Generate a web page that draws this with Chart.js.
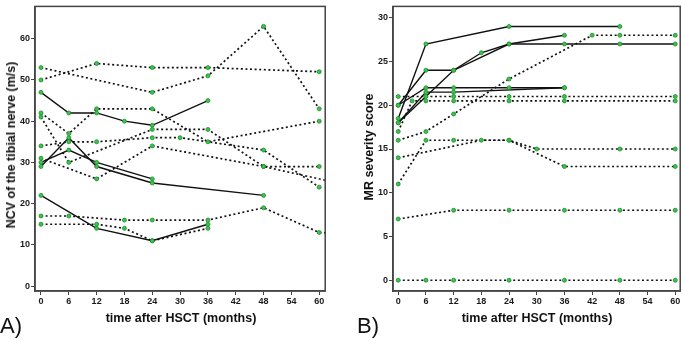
<!DOCTYPE html>
<html>
<head>
<meta charset="utf-8">
<script src="https://cdn.jsdelivr.net/npm/chart.js@4.4.1/dist/chart.umd.min.js"></script>
<style>
  body { margin: 0; background: #fff; }
  #wrap { position: relative; width: 685px; height: 339px; overflow: hidden; font-family: "Liberation Sans", Arial, sans-serif; }
  canvas { position: absolute; top: 0; }
  .lbl { position: absolute; white-space: nowrap; color: #111; }
  .ttl { font-weight: bold; font-size: 12.5px; transform: translate(-50%, -50%); }
  .vert { transform: translate(-50%, -50%) rotate(-90deg); }
  .panel { font-size: 22px; }
</style>
</head>
<body>
<div id="wrap">
  <canvas id="chartA" width="330" height="339" style="left:0"></canvas>
  <canvas id="chartB" width="325" height="339" style="left:360px"></canvas>
  <div class="lbl ttl vert" style="left:11px; top:145px">NCV of the tibial nerve (m/s)</div>
  <div class="lbl ttl" style="left:181px; top:318px">time after HSCT (months)</div>
  <div class="lbl panel" style="left:0; top:313px">A)</div>
  <div class="lbl ttl vert" style="left:369px; top:147px">MR severity score</div>
  <div class="lbl ttl" style="left:537px; top:318px">time after HSCT (months)</div>
  <div class="lbl panel" style="left:357px; top:313px">B)</div>
</div>
<script>
// tick labels
const monthTicks = [0, 6, 12, 18, 24, 30, 36, 42, 48, 54, 60];
const ncvTicks = [0, 10, 20, 30, 40, 50, 60];
const mrTicks = [0, 5, 10, 15, 20, 25, 30];

// panel A: NCV of the tibial nerve, solid lines
const ncvS1Months = [0, 6, 12, 18, 24, 36];
const ncvS1 = [47, 42, 42, 40, 39, 45];
const ncvS2Months = [0, 6, 12, 24, 48];
const ncvS2 = [29, 36, 29, 25, 22];
const ncvS3Months = [0, 6, 12, 24];
const ncvS3 = [30, 33, 30, 26];
const ncvS4Months = [0, 12, 24, 36];
const ncvS4 = [22, 14, 11, 15];
// panel A, dotted lines
const ncvD1Months = [0, 24, 36, 48, 60];
const ncvD1 = [53, 47, 51, 63, 43];
const ncvD2Months = [0, 12, 24, 36, 60];
const ncvD2 = [50, 54, 53, 53, 52];
const ncvD3Months = [0, 6, 12, 24, 36, 60];
const ncvD3 = [42, 37, 43, 43, 35, 40];
const ncvD4Months = [0, 6, 24, 36, 48, 72];
const ncvD4 = [41, 30, 38, 38, 29, 23];
const ncvD5Months = [0, 6, 12, 24, 30, 48, 60];
const ncvD5 = [34, 35, 35, 36, 36, 33, 24];
const ncvD6Months = [0, 12, 24, 48, 60];
const ncvD6 = [31, 26, 34, 29, 29];
const ncvD7Months = [0, 6, 18, 24, 36, 48, 60, 72];
const ncvD7 = [17, 17, 16, 16, 16, 19, 13, 12];
const ncvD8Months = [0, 12, 18, 24, 36];
const ncvD8 = [15, 15, 14, 11, 14];

// panel B: MR severity score, solid lines
const mrS1Months = [0, 6, 24, 48];
const mrS1 = [18.5, 27, 29, 29];
const mrS2Months = [0, 6, 12, 24, 36, 48, 60];
const mrS2 = [20, 24, 24, 27, 27, 27, 27];
const mrS3Months = [0, 12, 18, 24, 36];
const mrS3 = [18, 24, 26, 27, 28];
const mrS4Months = [0, 6, 12, 24, 36];
const mrS4 = [20, 22, 22, 22, 22];
const mrS5Months = [0, 6, 12, 36];
const mrS5 = [18, 21.5, 21.5, 22];
// panel B, dotted lines
const mrD1Months = [0, 6, 12, 24, 36, 60];
const mrD1 = [21, 21, 21, 21, 21, 21];
const mrD2Months = [0, 3, 6, 12, 24, 36, 60];
const mrD2 = [17, 20.5, 20.5, 20.5, 20.5, 20.5, 20.5];
const mrD3Months = [0, 6, 12, 24, 42, 48, 60];
const mrD3 = [16, 17, 19, 23, 28, 28, 28];
const mrD4Months = [0, 18, 24, 30, 48, 60];
const mrD4 = [14, 16, 16, 15, 15, 15];
const mrD5Months = [0, 6, 12, 24, 36, 60];
const mrD5 = [11, 16, 16, 16, 13, 13];
const mrD6Months = [0, 12, 24, 36, 48, 60];
const mrD6 = [7, 8, 8, 8, 8, 8];
const mrD7Months = [0, 6, 12, 24, 36, 48, 60];
const mrD7 = [0, 0, 0, 0, 0, 0, 0];

const tickFont = { family: '"Liberation Sans", Arial, sans-serif', size: 9, weight: 'bold' };
const frameColor = '#444';

const series = (months, values, dotted) => ({
    data: months.map((m, i) => ({ x: m, y: values[i] })),
    showLine: true,
    borderColor: '#111',
    borderWidth: dotted ? 1.7 : 1.4,
    borderDash: dotted ? [2, 2.6] : [],
    pointRadius: 2,
    pointBackgroundColor: '#3cc44c',
    pointBorderColor: '#1d8a2c',
    pointBorderWidth: 0.8,
});

const framePlugin = {
    id: 'frame',
    afterDraw(chart) {
        const { ctx, chartArea: a } = chart;
        ctx.save();
        ctx.strokeStyle = frameColor;
        ctx.lineWidth = 1.5;
        ctx.strokeRect(a.left, a.top, a.right - a.left, a.bottom - a.top);
        ctx.restore();
    }
};

const makeChart = (id, datasets, xRange, yRange, yTicks, yWidth, padRight) => new Chart(document.getElementById(id), {
    type: 'scatter',
    data: { datasets },
    options: {
        responsive: false,
        animation: false,
        devicePixelRatio: 1,
        layout: { padding: { top: 1, right: padRight, left: 0, bottom: 0 } },
        plugins: { legend: { display: false }, tooltip: { enabled: false } },
        scales: {
            x: {
                type: 'linear', min: xRange[0], max: xRange[1],
                afterBuildTicks: s => { s.ticks = monthTicks.map(v => ({ value: v })); },
                afterFit: s => { s.height = 48; },
                ticks: { font: tickFont, color: '#1a1a1a', padding: 1, maxRotation: 0, autoSkip: false },
                grid: { drawOnChartArea: false, drawTicks: true, tickLength: 4, color: frameColor, lineWidth: 1 },
                border: { display: true, color: frameColor, width: 1.5 },
            },
            y: {
                type: 'linear', min: yRange[0], max: yRange[1],
                afterBuildTicks: s => { s.ticks = yTicks.map(v => ({ value: v })); },
                afterFit: s => { s.width = yWidth; },
                ticks: { font: tickFont, color: '#1a1a1a', padding: 1, autoSkip: false },
                grid: { drawOnChartArea: false, drawTicks: true, tickLength: 4, color: frameColor, lineWidth: 1 },
                border: { display: true, color: frameColor, width: 1.5 },
            }
        }
    },
    plugins: [framePlugin]
});

makeChart('chartA', [
    series(ncvD1Months, ncvD1, true),
    series(ncvD2Months, ncvD2, true),
    series(ncvD3Months, ncvD3, true),
    series(ncvD4Months, ncvD4, true),
    series(ncvD5Months, ncvD5, true),
    series(ncvD6Months, ncvD6, true),
    series(ncvD7Months, ncvD7, true),
    series(ncvD8Months, ncvD8, true),
    series(ncvS1Months, ncvS1, false),
    series(ncvS2Months, ncvS2, false),
    series(ncvS3Months, ncvS3, false),
    series(ncvS4Months, ncvS4, false),
], [-1.29, 61.29], [-1.2, 67.85], ncvTicks, 35, 3);

makeChart('chartB', [
    series(mrD1Months, mrD1, true),
    series(mrD2Months, mrD2, true),
    series(mrD3Months, mrD3, true),
    series(mrD4Months, mrD4, true),
    series(mrD5Months, mrD5, true),
    series(mrD6Months, mrD6, true),
    series(mrD7Months, mrD7, true),
    series(mrS1Months, mrS1, false),
    series(mrS2Months, mrS2, false),
    series(mrS3Months, mrS3, false),
    series(mrS4Months, mrS4, false),
    series(mrS5Months, mrS5, false),
], [-1.13, 61.07], [-1.23, 31.3], mrTicks, 33, 1);
</script>
</body>
</html>
